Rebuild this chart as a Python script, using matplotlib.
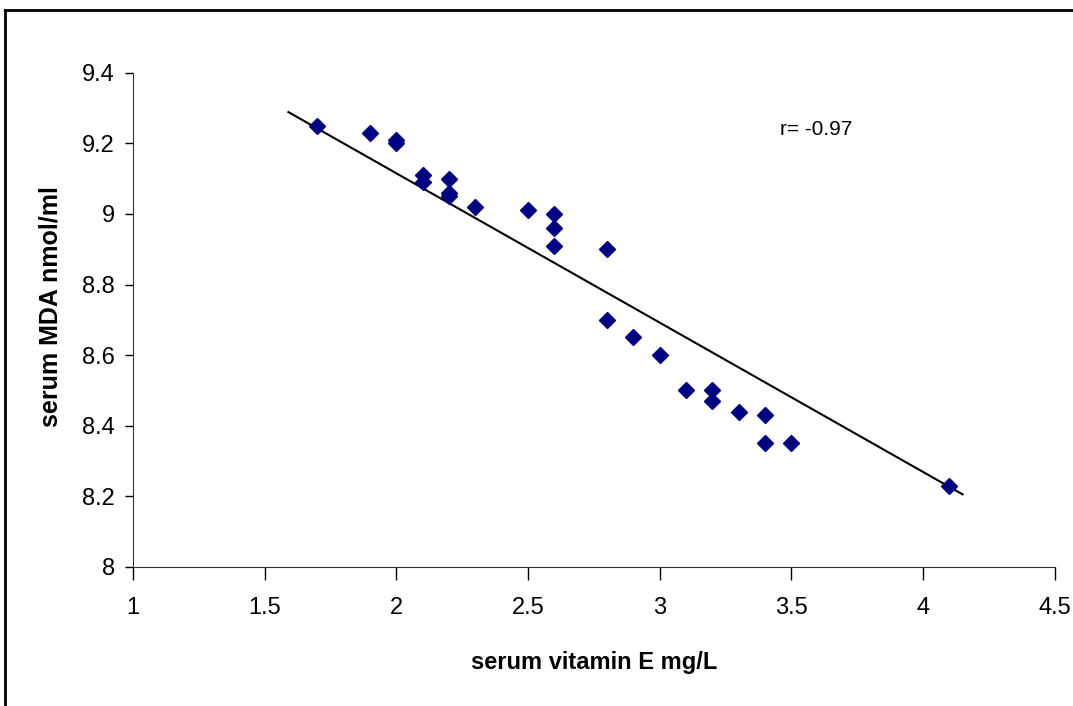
import matplotlib
matplotlib.use("Agg")
import matplotlib.pyplot as plt
import numpy as np
from matplotlib.lines import Line2D

plt.rcParams['font.family'] = ['Liberation Sans', 'DejaVu Sans']

# data
vit_e = [1.7, 1.9, 2.0, 2.0, 2.1, 2.1, 2.2, 2.2, 2.2, 2.3, 2.5, 2.6, 2.6, 2.6,
         2.8, 2.8, 2.9, 3.0, 3.1, 3.2, 3.2, 3.3, 3.4, 3.4, 3.5, 4.1]
mda = [9.25, 9.23, 9.21, 9.20, 9.11, 9.09, 9.10, 9.06, 9.05, 9.02, 9.01, 9.00, 8.96, 8.91,
       8.90, 8.70, 8.65, 8.60, 8.50, 8.50, 8.47, 8.44, 8.43, 8.35, 8.35, 8.23]
trend_x = [1.59, 4.15]
trend_slope = -0.423
trend_icpt = 9.961
r_text = "r= -0.97"

fig = plt.figure(figsize=(10.73, 7.06), dpi=100)
ax = fig.add_axes([0.124, 0.197, 0.859, 0.70])

tx = np.array(trend_x)
ax.plot(tx, trend_icpt + trend_slope * tx, color='black', lw=1.5, zorder=2)
ax.plot(vit_e, mda, linestyle='none', marker='D', markersize=8.5,
        color='#000080', zorder=3)

ax.set_xlim(1, 4.5)
ax.set_ylim(8, 9.4)
ax.set_xticks(np.arange(1, 4.51, 0.5))
ax.set_xticklabels(['1', '1.5', '2', '2.5', '3', '3.5', '4', '4.5'])
ax.set_yticks(np.arange(8, 9.41, 0.2))
ax.set_yticklabels(['8', '8.2', '8.4', '8.6', '8.8', '9', '9.2', '9.4'])
ax.tick_params(axis='x', direction='out', length=9, width=1, labelsize=17, pad=13)
ax.tick_params(axis='y', direction='out', length=6, width=1, labelsize=17, pad=7)
for s in ['top', 'right']:
    ax.spines[s].set_visible(False)
ax.spines['left'].set_color('#333333')
ax.spines['bottom'].set_color('#333333')

ax.set_xlabel('serum vitamin E mg/L', fontsize=17, fontweight='bold', va='center')
ax.xaxis.set_label_coords(0.5, -0.194)
ax.set_ylabel('serum MDA nmol/ml', fontsize=18, fontweight='bold', va='center')
ax.yaxis.set_label_coords(-0.090, 0.527)
ax.text(3.456, 9.238, r_text, fontsize=15, va='center', ha='left')

# outer frame
fig.add_artist(Line2D([5/1073, 5/1073], [0, 1 - 10/706], color='black', lw=2,
                      transform=fig.transFigure))
fig.add_artist(Line2D([5/1073, 1], [1 - 10/706, 1 - 10/706], color='black', lw=2,
                      transform=fig.transFigure))

fig.savefig('out.png', dpi=100)
